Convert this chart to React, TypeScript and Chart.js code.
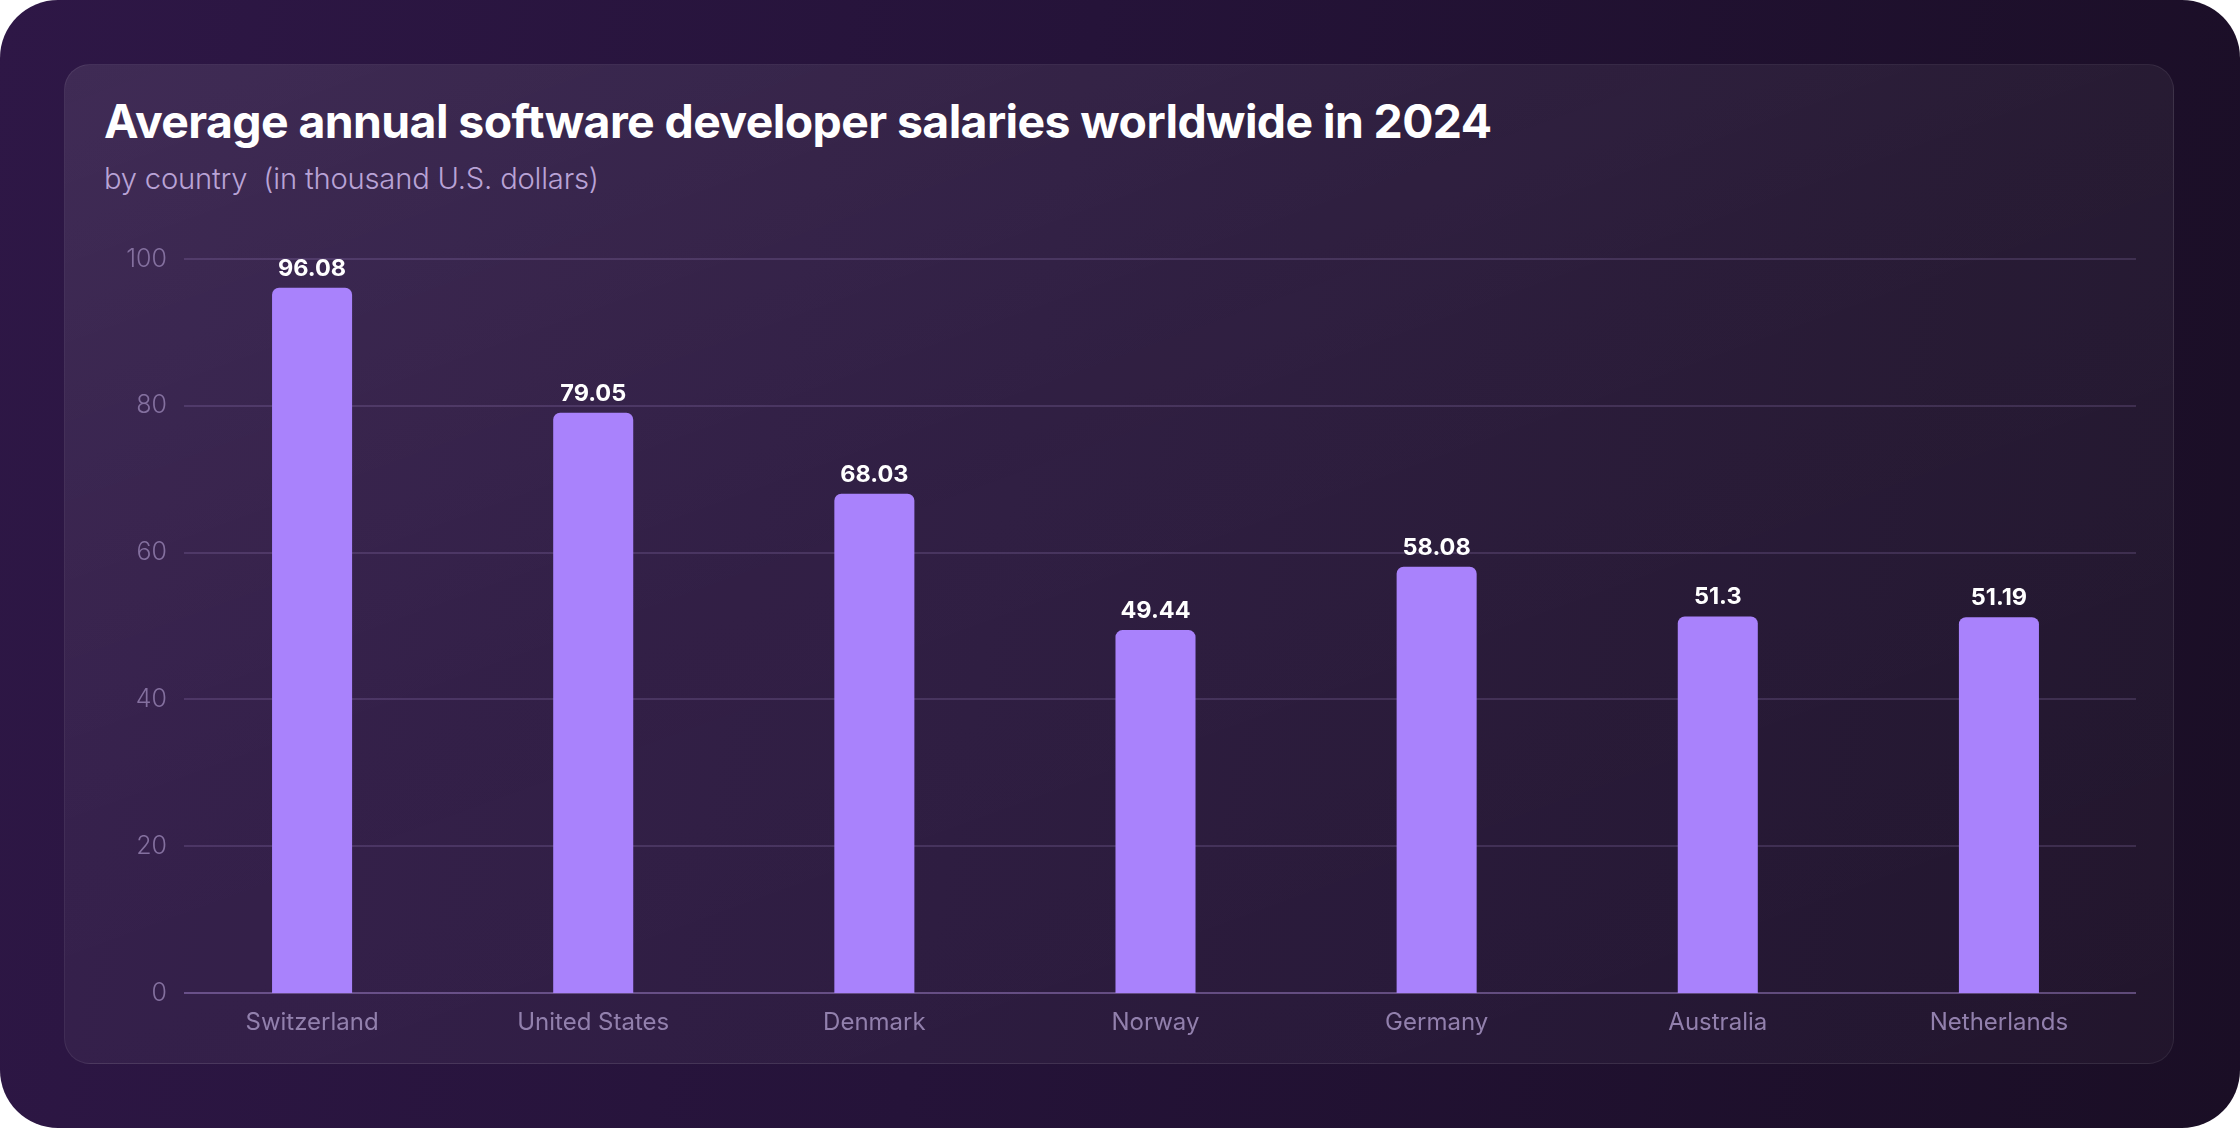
import React, { useEffect, useRef } from "react";
import { Chart, registerables } from "chart.js";

Chart.register(...registerables);

const categories = ["Switzerland", "United States", "Denmark", "Norway", "Germany", "Australia", "Netherlands"];
const salaries = [96.08, 79.05, 68.03, 49.44, 58.08, 51.3, 51.19];
const valueLabels = ["96.08", "79.05", "68.03", "49.44", "58.08", "51.3", "51.19"];
const yTicks = [0, 20, 40, 60, 80, 100];
const titleText = "Average annual software developer salaries worldwide in 2024";
const subtitleText = "by country  (in thousand U.S. dollars)";

const FONT = "Inter, 'Noto Sans', sans-serif";

const gridPlugin = {
  id: "customGrid",
  beforeDatasetsDraw(chart: any) {
    const { ctx, chartArea, scales } = chart;
    const y = scales.y;
    ctx.save();
    y.ticks.forEach((t: any) => {
      const py = Math.round(y.getPixelForValue(t.value));
      ctx.strokeStyle = t.value === 0 ? "rgba(170,140,215,0.45)" : "rgba(200,170,240,0.16)";
      ctx.lineWidth = 2;
      ctx.beginPath();
      ctx.moveTo(chartArea.left + 12.5, py);
      ctx.lineTo(chartArea.right - 3.5, py);
      ctx.stroke();
    });
    ctx.restore();
  },
};

const valueLabelPlugin = {
  id: "valueLabels",
  afterDatasetsDraw(chart: any) {
    const { ctx } = chart;
    const meta = chart.getDatasetMeta(0);
    ctx.save();
    ctx.fillStyle = "#ffffff";
    ctx.font = `700 23.5px ${FONT}`;
    ctx.textAlign = "center";
    ctx.textBaseline = "alphabetic";
    meta.data.forEach((bar: any, i: number) => {
      ctx.fillText(valueLabels[i], bar.x, bar.y - 12);
    });
    ctx.restore();
  },
};

export default function App() {
  const canvasRef = useRef<HTMLCanvasElement | null>(null);

  useEffect(() => {
    if (!canvasRef.current) return;
    const chart = new Chart(canvasRef.current, {
      type: "bar",
      data: {
        labels: categories,
        datasets: [
          {
            data: salaries,
            backgroundColor: "#a982fc",
            borderRadius: 7,
            borderSkipped: "start",
            categoryPercentage: 1,
            barPercentage: 0.2847,
          },
        ],
      },
      options: {
        animation: false,
        responsive: false,
        devicePixelRatio: 1,
        layout: { padding: { left: 0, right: 100.5, top: 259, bottom: 1128 - 993 - 60 } },
        plugins: { legend: { display: false }, tooltip: { enabled: false }, title: { display: false } },
        scales: {
          x: {
            grid: { display: false, drawTicks: false },
            border: { display: false },
            ticks: {
              color: "#9280ad",
              font: { family: FONT, size: 24, weight: "400" as any },
              padding: 15,
              maxRotation: 0,
              autoSkip: false,
            },
            afterFit: (scale: any) => {
              scale.height = 60;
            },
          },
          y: {
            min: 0,
            max: 100,
            grid: { display: false, drawTicks: false },
            border: { display: false },
            afterBuildTicks: (scale: any) => {
              scale.ticks = yTicks.map((v) => ({ value: v }));
            },
            ticks: {
              color: "#84709f",
              font: { family: FONT, size: 25, weight: "300" as any },
              padding: 4.5,
            },
            afterFit: (scale: any) => {
              scale.width = 171.5;
            },
          },
        },
      },
      plugins: [gridPlugin, valueLabelPlugin],
    });
    return () => chart.destroy();
  }, []);

  return (
    <div
      style={{
        position: "fixed",
        left: 0,
        top: 0,
        width: 2240,
        height: 1128,
        background: "#ffffff",
        overflow: "hidden",
      }}
    >
      <div
        style={{
          position: "absolute",
          left: 0,
          top: 0,
          width: 2240,
          height: 1128,
          borderRadius: 58,
          background: "linear-gradient(100deg, #2e1746 0%, #251339 45%, #1a0e25 100%)",
        }}
      />
      <div
        style={{
          position: "absolute",
          left: 64,
          top: 64,
          width: 2110,
          height: 1000,
          boxSizing: "border-box",
          borderRadius: 26,
          border: "1.5px solid rgba(255,255,255,0.07)",
          background:
            "linear-gradient(160deg, rgba(255,255,255,0.09) 0%, rgba(255,255,255,0.05) 45%, rgba(255,255,255,0.03) 100%)",
        }}
      />
      <div
        style={{
          position: "absolute",
          left: 104,
          top: 98,
          fontFamily: FONT,
          fontWeight: 700,
          fontSize: 46.4,
          lineHeight: "46px",
          color: "#ffffff",
          whiteSpace: "pre",
          letterSpacing: -0.6,
        }}
      >
        {titleText}
      </div>
      <div
        style={{
          position: "absolute",
          left: 104,
          top: 165,
          fontFamily: FONT,
          fontWeight: 300,
          fontSize: 29.2,
          lineHeight: "28px",
          color: "#b9a3d6",
          whiteSpace: "pre",
          letterSpacing: -0.2,
        }}
      >
        {subtitleText}
      </div>
      <canvas
        ref={canvasRef}
        width={2240}
        height={1128}
        style={{ position: "absolute", left: 0, top: 0, width: 2240, height: 1128 }}
      />
    </div>
  );
}
